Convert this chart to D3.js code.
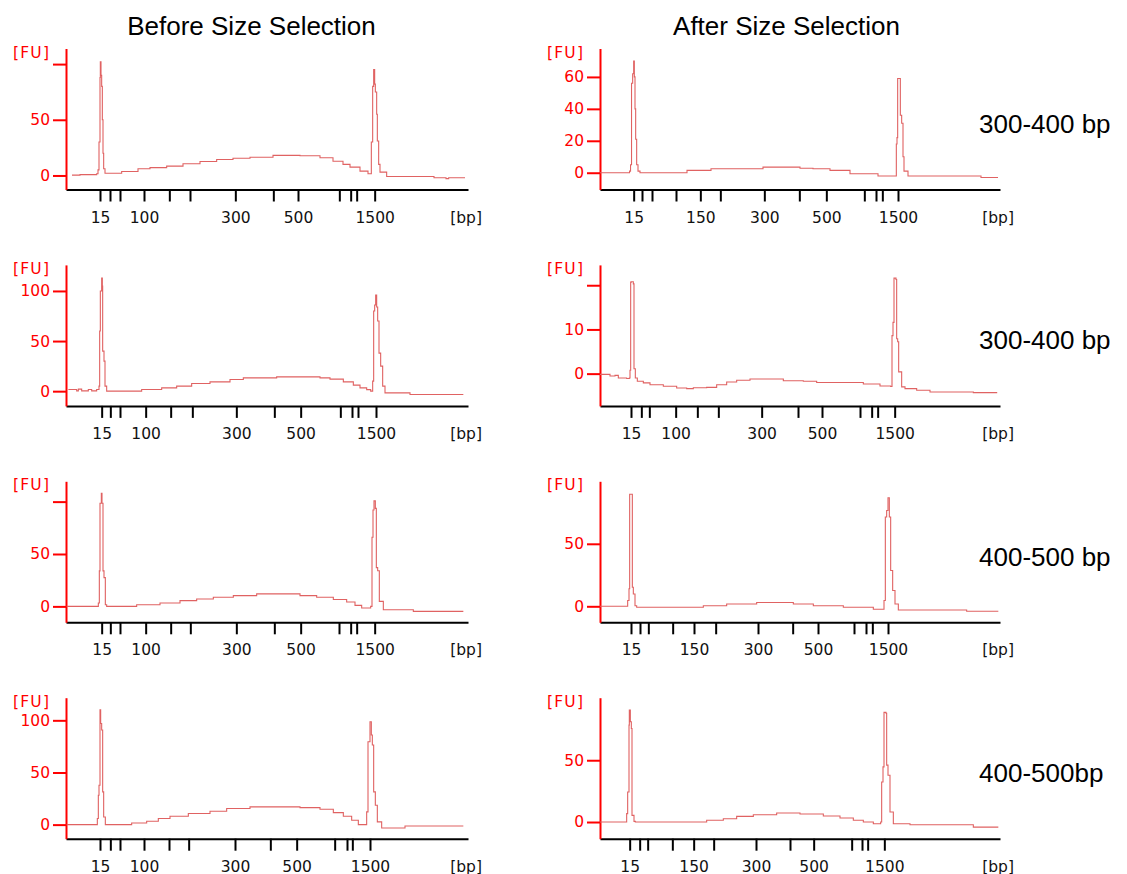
<!DOCTYPE html>
<html>
<head>
<meta charset="utf-8">
<script src="https://cdn.jsdelivr.net/npm/d3@7"></script>
<style>
  html, body { margin: 0; padding: 0; background: #fff; }
  svg { display: block; }
</style>
</head>
<body>
<script>
// ---- Electropherogram data (Bioanalyzer DNA 1000 runs) ----
// Ladder fragment sizes and the migration times (s) where each one eluted.
const ladderSizes = [15, 25, 50, 100, 150, 200, 300, 400, 500, 700, 850, 1000, 1500];

const columnTitles = ["Before Size Selection", "After Size Selection"];
const rowLabels = ["300-400 bp", "300-400 bp", "400-500 bp", "400-500bp"];

// migration-time window shown on each column's x axis
const timeRange = [[17, 77.3], [17, 77]];

const ladderTimesBefore = [
  [22.1, 23.6, 25.1, 28.7, 32.5, 35.6, 42.4, 48.1, 51.8, 58.0, 59.7, 60.6, 63.3],
  [22.35, 23.65, 25.1, 28.95, 32.7, 35.95, 42.55, 48.25, 52.2, 58.15, 59.9, 60.8, 63.5],
  [22.35, 23.65, 25.1, 28.95, 32.7, 35.65, 42.55, 48.25, 52.2, 57.95, 59.7, 60.6, 63.3],
  [22.1, 23.65, 25.1, 28.7, 32.45, 35.4, 42.35, 47.65, 51.6, 57.3, 59.15, 59.95, 62.6]
];
const ladderTimesAfter = [
  [22.05, 23.3, 24.8, 28.4, 32.05, 35.05, 41.65, 46.9, 50.95, 56.65, 58.4, 59.35, 61.7],
  [21.65, 23.2, 24.4, 28.35, 31.6, 34.75, 41.25, 46.7, 50.3, 56.0, 57.75, 58.65, 61.2],
  [21.65, 23.0, 24.25, 27.9, 31.1, 34.35, 40.7, 45.9, 49.7, 55.1, 56.9, 57.85, 60.2],
  [21.45, 22.95, 24.15, 27.85, 31.05, 34.05, 40.4, 45.5, 49.05, 54.75, 56.3, 57.15, 59.65]
];

// sizes printed under the x axis
const sizeLabelsBefore = [
  [15, 100, 300, 500, 1500], [15, 100, 300, 500, 1500],
  [15, 100, 300, 500, 1500], [15, 100, 300, 500, 1500]
];
const sizeLabelsAfter = [
  [15, 150, 300, 500, 1500], [15, 100, 300, 500, 1500],
  [15, 150, 300, 500, 1500], [15, 150, 300, 500, 1500]
];

// fluorescence (FU) range, ticks and labelled ticks per panel
const fuRangeBefore = [[-12.6, 114], [-14.7, 126], [-15.2, 119.4], [-13.5, 121.7]];
const fuRangeAfter  = [[-10.5, 77.8], [-7.3, 24.6], [-12.8, 100], [-13.5, 100.6]];
const fuTicksBefore  = [[0, 50, 100], [0, 50, 100], [0, 50, 100], [0, 50, 100]];
const fuLabelsBefore = [[0, 50], [0, 50, 100], [0, 50], [0, 50, 100]];
const fuTicksAfter  = [[0, 20, 40, 60], [0, 10, 20], [0, 50], [0, 50]];
const fuLabelsAfter = [[0, 20, 40, 60], [0, 10], [0, 50], [0, 50]];

// traces: [migration time (s), fluorescence (FU)]
const traceBefore1 = [[17.9,0.3],[19.1,0.8],[21.6,1.5],[21.8,5],[21.95,30],[22.1,88],[22.15,102],[22.25,90],[22.35,80],[22.45,50],[22.55,20],[22.65,6],[22.85,2],[25.35,3.6],[27.8,6],[29.6,7],[32.1,8.4],[34.55,10.5],[37.1,12.5],[39.6,14.4],[42.05,15.5],[44.6,16.4],[48.05,18],[52.1,17.7],[55.1,15.9],[57.05,12.8],[58.55,10],[59.6,7.5],[61.1,3.9],[62.3,1.5],[62.8,30],[63.0,80],[63.15,95],[63.3,82],[63.4,75],[63.6,55],[63.7,31],[63.9,10],[64.1,3],[65.1,-0.9],[72.2,-2],[74.0,-2.8],[74.4,-2],[76.85,-2]];
const traceBefore2 = [[17.35,1.7],[18.6,0.3],[18.85,2],[19.35,0.3],[20.35,1.7],[20.85,0.3],[21.6,1.7],[21.95,5],[22.05,60],[22.15,100],[22.35,113],[22.45,105],[22.5,40],[22.7,30],[22.85,5],[23.1,0],[28.35,1.7],[31.35,3.3],[33.6,5],[35.85,7.7],[38.6,9.3],[41.6,11.7],[43.6,13.3],[48.6,14.3],[55.1,13.3],[56.6,12],[58.6,9.3],[60.1,6],[61.1,3.3],[62.1,1.5],[62.7,0],[63.0,10],[63.15,80],[63.3,86],[63.45,96],[63.6,84],[63.75,70],[63.95,38],[64.2,25],[64.5,5],[64.85,-1.7],[68.6,-3.3],[76.6,-3.3]];
const traceBefore3 = [[17.1,0],[21.85,3.2],[22.0,33.9],[22.1,98.4],[22.3,108],[22.4,98.4],[22.55,33.9],[22.7,27.4],[22.9,1.6],[23.1,0],[27.6,1.6],[31.1,3.2],[34.1,5.5],[36.6,7.1],[39.1,8.7],[42.1,10.3],[45.6,11.9],[52.1,10.3],[54.6,8.7],[57.1,6.5],[59.1,4.2],[60.35,1.0],[61.35,-1.6],[62.7,0],[62.9,66],[63.05,92],[63.2,100.7],[63.4,93.6],[63.55,37],[63.75,34],[64.0,4.8],[64.6,-3.2],[69.1,-4.8],[76.6,-4.8]];
const traceBefore4 = [[17.1,0],[21.7,5.8],[21.85,28.2],[21.95,37.8],[22.1,110],[22.2,97],[22.35,90.7],[22.5,31.4],[22.65,7.3],[22.9,0],[26.85,1.6],[29.1,3.2],[30.85,5.8],[32.6,8],[35.35,10.6],[38.6,12.8],[41.1,15.4],[44.6,17],[52.1,16.3],[55.1,14.7],[57.1,11.5],[58.6,8],[59.85,4.2],[60.85,0],[62.1,12.2],[62.3,79.5],[62.6,98.7],[62.8,85.9],[62.95,76.3],[63.15,31.4],[63.4,18.6],[63.7,2.6],[64.35,-3.2],[67.85,-1.3],[76.6,-1.3]];

const traceAfter1 = [[17.0,0],[21.43,1],[21.58,5],[21.73,56],[21.9,62],[22.05,70],[22.15,60],[22.25,40],[22.35,21],[22.5,5],[22.7,1],[23.0,0],[30.05,1.5],[33.65,2.5],[41.45,3.5],[47.0,2.8],[48.95,2.5],[51.5,1.5],[54.5,-0.6],[58.7,-2],[61.45,18],[61.55,22],[61.65,59],[62.05,36],[62.25,31],[62.45,10],[62.6,1],[63.2,-2],[74.15,-3],[76.7,-3]];
const traceAfter2 = [[17.0,-0.16],[18.5,-0.54],[19.25,-0.39],[19.75,-0.99],[21.0,-1.1],[21.4,-1.0],[21.5,0.75],[21.6,20.7],[21.7,20.8],[22.0,20.3],[22.1,1.1],[22.3,-1.0],[22.6,-1.74],[23.5,-2.1],[24.5,-2.5],[26.5,-2.87],[28.5,-3.25],[30.0,-3.4],[31.0,-3.2],[33.0,-3.1],[34.5,-2.5],[36.0,-1.9],[37.5,-1.5],[39.5,-1.2],[44.5,-1.6],[47.5,-1.74],[49.5,-2.0],[56.5,-2.35],[59.0,-2.8],[60.6,-2.9],[60.8,8.6],[60.95,11.6],[61.1,21.6],[61.4,21.3],[61.5,7.9],[61.65,7.2],[61.8,0.4],[62.25,-3.0],[62.75,-3.4],[64.5,-3.77],[66.5,-4.15],[73.0,-4.3],[76.5,-4.45]];
const traceAfter3 = [[17.0,0],[21.15,4.6],[21.35,14],[21.45,89.6],[21.75,89.6],[21.85,15.2],[22.0,9.9],[22.25,0.5],[22.5,-0.8],[32.5,0.5],[36.0,1.9],[40.5,3.0],[46.0,1.9],[49.0,0.5],[53.5,-0.8],[58.0,-2.4],[59.6,4.6],[59.8,71.4],[60.0,76.7],[60.2,86.9],[60.4,71.4],[60.6,28.6],[60.9,12.6],[61.25,1.9],[61.75,-2.9],[72.0,-4.0],[76.75,-4.0]];
const traceAfter4 = [[17.0,0],[21.0,6.8],[21.15,24.3],[21.35,78.4],[21.4,90.6],[21.55,81.1],[21.7,75.7],[21.8,5.4],[22.1,0.5],[22.3,0],[33.0,1.4],[35.5,2.7],[37.5,4.6],[40.0,5.9],[43.5,7.3],[47.0,6.5],[50.5,4.9],[53.0,3.2],[55.0,1.4],[56.5,0],[58.0,-1.4],[59.1,0],[59.25,32.4],[59.45,44.6],[59.6,88.7],[59.9,88],[60.0,46],[60.2,37.9],[60.5,8.1],[61.0,-1.4],[63.5,-2.2],[73.0,-4.1],[76.75,-4.1]];

const tracesBefore = [traceBefore1, traceBefore2, traceBefore3, traceBefore4];
const tracesAfter  = [traceAfter1, traceAfter2, traceAfter3, traceAfter4];

// ---- Layout ----
const W = 1127, H = 874;
const columns = [{ x0: 66, x1: 468 }, { x0: 600, x1: 1000 }];
const rowTop0 = 48.5, rowStep = 216.4, plotH = 141;
const RED = "#ff0000";
const TRACE = "#e06262";
const tickFont = "'DejaVu Sans', Verdana, sans-serif";
const tickSize = "15.5px";
const titleFont = "'Liberation Sans', Arial, sans-serif";

const svg = d3.select("body").append("svg")
  .attr("width", W).attr("height", H)
  .attr("viewBox", `0 0 ${W} ${H}`);
svg.append("rect").attr("width", W).attr("height", H).attr("fill", "#fff");

// column titles
columnTitles.forEach((t, c) => {
  const mid = c === 0 ? 251.5 : 786.5;
  svg.append("text")
    .attr("x", mid).attr("y", 35)
    .attr("text-anchor", "middle")
    .attr("font-family", titleFont)
    .attr("font-size", 26)
    .attr("fill", "#000")
    .text(t);
});

// row labels on the right
rowLabels.forEach((t, r) => {
  svg.append("text")
    .attr("x", 979).attr("y", rowTop0 + rowStep * r + 84.5)
    .attr("font-family", titleFont)
    .attr("font-size", 26)
    .attr("fill", "#000")
    .text(t);
});

function styleTickText(sel, color) {
  sel.attr("fill", color)
    .style("font-family", tickFont)
    .style("font-size", tickSize);
}

function drawPanel(col, row, ladderTimes, sizeLabels, fuRange, fuTicks, fuLabels, trace) {
  const { x0, x1 } = columns[col];
  const top = rowTop0 + rowStep * row;
  const bottom = top + plotH;

  const x = d3.scaleLinear().domain(timeRange[col]).range([x0, x1]);
  const y = d3.scaleLinear().domain(fuRange).range([bottom, top]);

  const g = svg.append("g").attr("class", "panel");

  // x axis: ladder positions, labelled with fragment size in bp
  const xAxis = d3.axisBottom(x)
    .tickValues(ladderTimes)
    .tickSize(12)
    .tickSizeOuter(0)
    .tickFormat((d, i) => sizeLabels.includes(ladderSizes[i]) ? ladderSizes[i] : "");
  const gx = g.append("g")
    .attr("transform", `translate(0,${bottom})`)
    .call(xAxis)
    .attr("font-family", null).attr("font-size", null);
  gx.select(".domain").attr("stroke", "#000").attr("stroke-width", 2);
  gx.selectAll(".tick line").attr("stroke", "#000").attr("stroke-width", 2);
  styleTickText(gx.selectAll(".tick text").attr("y", 33).attr("dy", null), "#111");

  styleTickText(g.append("text")
    .attr("x", x1 + 14).attr("y", bottom + 33)
    .attr("text-anchor", "end")
    .text("[bp]"), "#111");

  // y axis: fluorescence units
  const yAxis = d3.axisLeft(y)
    .tickValues(fuTicks)
    .tickSize(13)
    .tickSizeOuter(0)
    .tickPadding(3)
    .tickFormat(d => fuLabels.includes(d) ? d : "");
  const gy = g.append("g")
    .attr("transform", `translate(${x0},0)`)
    .call(yAxis)
    .attr("font-family", null).attr("font-size", null);
  gy.select(".domain").attr("stroke", RED).attr("stroke-width", 2);
  gy.selectAll(".tick line").attr("stroke", RED).attr("stroke-width", 2);
  styleTickText(gy.selectAll(".tick text"), RED);

  styleTickText(g.append("text")
    .attr("x", x0 - 53).attr("y", top + 9)
    .attr("letter-spacing", 1.2)
    .text("[FU]"), RED);

  // electropherogram trace
  const line = d3.line()
    .x(d => x(d[0]))
    .y(d => y(d[1]))
    .curve(d3.curveStepAfter);
  g.append("path")
    .datum(trace)
    .attr("fill", "none")
    .attr("stroke", TRACE)
    .attr("stroke-width", 1.1)
    .attr("d", line);
}

for (let r = 0; r < 4; r++) {
  drawPanel(0, r, ladderTimesBefore[r], sizeLabelsBefore[r], fuRangeBefore[r],
            fuTicksBefore[r], fuLabelsBefore[r], tracesBefore[r]);
  drawPanel(1, r, ladderTimesAfter[r], sizeLabelsAfter[r], fuRangeAfter[r],
            fuTicksAfter[r], fuLabelsAfter[r], tracesAfter[r]);
}
</script>
</body>
</html>
